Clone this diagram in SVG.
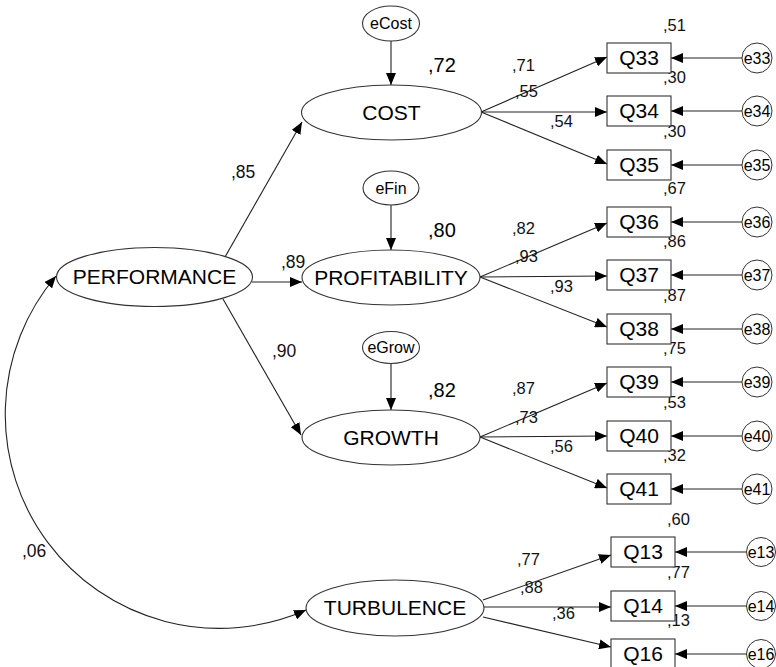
<svg xmlns="http://www.w3.org/2000/svg" width="776" height="667" viewBox="0 0 776 667">
<style>
.bg{fill:#fff}
.lat{fill:#fff;stroke:#333;stroke-width:1.1}
.box{fill:#fff;stroke:#333;stroke-width:1.1}
.err{fill:#fff;stroke:#333;stroke-width:1}
.ln{fill:none;stroke:#222;stroke-width:1.1;marker-end:url(#ah)}
.big{font-family:"Liberation Sans",Arial,sans-serif;font-size:21px;fill:#000;text-anchor:middle}
.esm{font-family:"Liberation Sans",Arial,sans-serif;font-size:16px;fill:#000;text-anchor:middle}
.lab{font-family:"Liberation Sans",Arial,sans-serif;font-size:16.5px;fill:#111}
.plab{font-family:"Liberation Sans",Arial,sans-serif;font-size:17.5px;fill:#111}
.r2{font-family:"Liberation Sans",Arial,sans-serif;font-size:20px;fill:#000}
</style>
<defs>
<marker id="ah" markerUnits="userSpaceOnUse" markerWidth="12" markerHeight="10" refX="12" refY="5" orient="auto-start-reverse">
<path d="M0,0 L12,5 L0,10 z" fill="#000"/>
</marker>
</defs>
<rect class="bg" x="0" y="0" width="776" height="667"/>

<g id="connectors">
<line class="ln" x1="225" y1="257" x2="302" y2="122"/>
<line class="ln" x1="252" y1="282" x2="302" y2="282"/>
<line class="ln" x1="223" y1="299" x2="301" y2="435"/>
<line class="ln" x1="391" y1="41" x2="391" y2="85"/>
<line class="ln" x1="391" y1="205" x2="391" y2="250"/>
<line class="ln" x1="391" y1="364" x2="391" y2="410"/>
<path class="ln" style="marker-start:url(#ah)" d="M306,610 A214,214 0 0 1 56,276"/>
<line class="ln" x1="481" y1="112" x2="607" y2="57"/>
<line class="ln" x1="481" y1="112" x2="607" y2="112"/>
<line class="ln" x1="481" y1="112" x2="607" y2="164"/>
<line class="ln" x1="480" y1="277" x2="607" y2="223"/>
<line class="ln" x1="480" y1="277" x2="607" y2="276"/>
<line class="ln" x1="480" y1="277" x2="607" y2="327"/>
<line class="ln" x1="480" y1="437" x2="607" y2="383"/>
<line class="ln" x1="480" y1="437" x2="607" y2="436"/>
<line class="ln" x1="480" y1="437" x2="607" y2="488"/>
<line class="ln" x1="483" y1="600" x2="611" y2="555"/>
<line class="ln" x1="484" y1="607" x2="611" y2="607"/>
<line class="ln" x1="483" y1="617" x2="611" y2="647"/>
<line class="ln" x1="742" y1="58" x2="671" y2="58"/>
<line class="ln" x1="742" y1="111" x2="671" y2="111"/>
<line class="ln" x1="742" y1="165" x2="671" y2="165"/>
<line class="ln" x1="742" y1="222" x2="671" y2="222"/>
<line class="ln" x1="742" y1="275" x2="671" y2="275"/>
<line class="ln" x1="742" y1="329" x2="671" y2="329"/>
<line class="ln" x1="742" y1="382" x2="671" y2="382"/>
<line class="ln" x1="742" y1="436" x2="671" y2="436"/>
<line class="ln" x1="742" y1="489" x2="671" y2="489"/>
<line class="ln" x1="747" y1="552" x2="675" y2="552"/>
<line class="ln" x1="747" y1="606" x2="675" y2="606"/>
<line class="ln" x1="747" y1="654" x2="675" y2="654"/>
</g>

<g id="labels">
<text class="plab" x="231" y="178">,85</text>
<text class="plab" x="281" y="268">,89</text>
<text class="plab" x="272" y="357">,90</text>
<text class="plab" x="22" y="557">,06</text>
<text class="r2" x="428" y="72">,72</text>
<text class="r2" x="428" y="237">,80</text>
<text class="r2" x="428" y="397">,82</text>
<text class="lab" x="512" y="71">,71</text>
<text class="lab" x="515" y="97">,55</text>
<text class="lab" x="550" y="127">,54</text>
<text class="lab" x="512" y="234">,82</text>
<text class="lab" x="515" y="262">,93</text>
<text class="lab" x="550" y="292">,93</text>
<text class="lab" x="512" y="394">,87</text>
<text class="lab" x="515" y="423">,73</text>
<text class="lab" x="550" y="452">,56</text>
<text class="lab" x="517" y="565">,77</text>
<text class="lab" x="520" y="593">,88</text>
<text class="lab" x="552" y="619">,36</text>
<text class="lab" x="663" y="31">,51</text>
<text class="lab" x="663" y="83">,30</text>
<text class="lab" x="663" y="137">,30</text>
<text class="lab" x="663" y="194">,67</text>
<text class="lab" x="663" y="247">,86</text>
<text class="lab" x="663" y="301">,87</text>
<text class="lab" x="663" y="354">,75</text>
<text class="lab" x="663" y="408">,53</text>
<text class="lab" x="663" y="461">,32</text>
<text class="lab" x="667" y="525">,60</text>
<text class="lab" x="667" y="578">,77</text>
<text class="lab" x="667" y="626">,13</text>
</g>

<g id="PERFORMANCE"><ellipse class="lat" cx="154.5" cy="277" rx="98" ry="29.5"/><text class="big" x="154.5" y="284">PERFORMANCE</text></g>
<g id="COST"><ellipse class="lat" cx="391.5" cy="112.5" rx="90" ry="27.5"/><text class="big" x="391.5" y="119.5">COST</text></g>
<g id="PROFITABILITY"><ellipse class="lat" cx="391" cy="277.5" rx="89" ry="27.5"/><text class="big" x="391" y="284.5">PROFITABILITY</text></g>
<g id="GROWTH"><ellipse class="lat" cx="391" cy="437.5" rx="89" ry="27.5"/><text class="big" x="391" y="444.5">GROWTH</text></g>
<g id="TURBULENCE"><ellipse class="lat" cx="395" cy="608" rx="89" ry="28"/><text class="big" x="395" y="615">TURBULENCE</text></g>
<g id="eCost"><ellipse class="lat" cx="391" cy="23.5" rx="28.5" ry="17.5"/><text class="esm" x="391" y="29">eCost</text></g>
<g id="eFin"><ellipse class="lat" cx="391" cy="188" rx="28" ry="17"/><text class="esm" x="391" y="193.5">eFin</text></g>
<g id="eGrow"><ellipse class="lat" cx="391" cy="347.5" rx="28.5" ry="16"/><text class="esm" x="391" y="353">eGrow</text></g>

<g id="Q33"><rect class="box" x="607" y="43" width="64" height="30"/><text class="big" x="639" y="65">Q33</text></g>
<g id="Q34"><rect class="box" x="607" y="96" width="64" height="30"/><text class="big" x="639" y="118">Q34</text></g>
<g id="Q35"><rect class="box" x="607" y="150" width="64" height="30"/><text class="big" x="639" y="172">Q35</text></g>
<g id="Q36"><rect class="box" x="607" y="207" width="64" height="30"/><text class="big" x="639" y="229">Q36</text></g>
<g id="Q37"><rect class="box" x="607" y="260" width="64" height="30"/><text class="big" x="639" y="282">Q37</text></g>
<g id="Q38"><rect class="box" x="607" y="314" width="64" height="30"/><text class="big" x="639" y="336">Q38</text></g>
<g id="Q39"><rect class="box" x="607" y="367" width="64" height="30"/><text class="big" x="639" y="389">Q39</text></g>
<g id="Q40"><rect class="box" x="607" y="421" width="64" height="30"/><text class="big" x="639" y="443">Q40</text></g>
<g id="Q41"><rect class="box" x="607" y="474" width="64" height="30"/><text class="big" x="639" y="496">Q41</text></g>
<g id="Q13"><rect class="box" x="611" y="537" width="64" height="30"/><text class="big" x="643" y="559">Q13</text></g>
<g id="Q14"><rect class="box" x="611" y="591" width="64" height="30"/><text class="big" x="643" y="613">Q14</text></g>
<g id="Q16"><rect class="box" x="611" y="639" width="64" height="30"/><text class="big" x="643" y="661">Q16</text></g>

<g id="e33"><circle class="err" cx="757" cy="58" r="15"/><text class="esm" x="757" y="63.5">e33</text></g>
<g id="e34"><circle class="err" cx="757" cy="111" r="15"/><text class="esm" x="757" y="116.5">e34</text></g>
<g id="e35"><circle class="err" cx="757" cy="165" r="15"/><text class="esm" x="757" y="170.5">e35</text></g>
<g id="e36"><circle class="err" cx="757" cy="222" r="15"/><text class="esm" x="757" y="227.5">e36</text></g>
<g id="e37"><circle class="err" cx="757" cy="275" r="15"/><text class="esm" x="757" y="280.5">e37</text></g>
<g id="e38"><circle class="err" cx="757" cy="329" r="15"/><text class="esm" x="757" y="334.5">e38</text></g>
<g id="e39"><circle class="err" cx="757" cy="382" r="15"/><text class="esm" x="757" y="387.5">e39</text></g>
<g id="e40"><circle class="err" cx="757" cy="436" r="15"/><text class="esm" x="757" y="441.5">e40</text></g>
<g id="e41"><circle class="err" cx="757" cy="489" r="15"/><text class="esm" x="757" y="494.5">e41</text></g>
<g id="e13"><circle class="err" cx="761" cy="552" r="14.5"/><text class="esm" x="761" y="557.5">e13</text></g>
<g id="e14"><circle class="err" cx="761" cy="606" r="14.5"/><text class="esm" x="761" y="611.5">e14</text></g>
<g id="e16"><circle class="err" cx="761" cy="654" r="14.5"/><text class="esm" x="761" y="659.5">e16</text></g>
</svg>
